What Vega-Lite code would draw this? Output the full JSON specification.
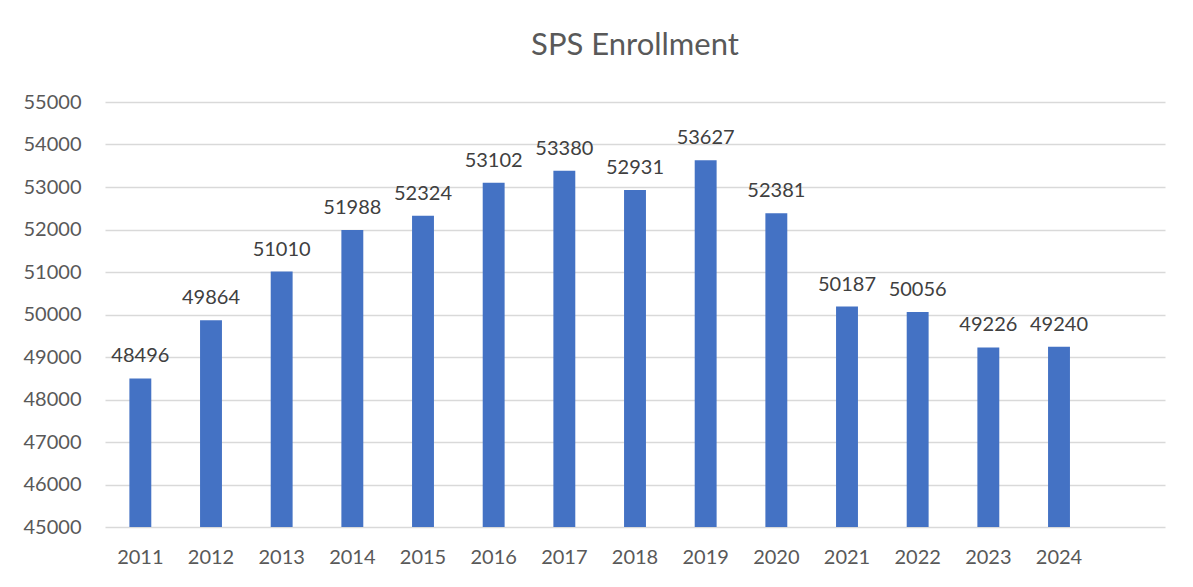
{
  "$schema": "https://vega.github.io/schema/vega-lite/v6.json",
  "autosize": {"type": "none"},
  "width": 1060,
  "height": 425,
  "padding": {"left": 105, "top": 102, "right": 28, "bottom": 60},
  "background": "white",
  "title": {"text": "SPS Enrollment", "font": "Lato", "fontSize": 31, "fontWeight": "normal", "color": "#595959", "anchor": "middle", "offset": 30},
  "data": {"values": [
    {"year": "2011", "enrollment": 48496},
    {"year": "2012", "enrollment": 49864},
    {"year": "2013", "enrollment": 51010},
    {"year": "2014", "enrollment": 51988},
    {"year": "2015", "enrollment": 52324},
    {"year": "2016", "enrollment": 53102},
    {"year": "2017", "enrollment": 53380},
    {"year": "2018", "enrollment": 52931},
    {"year": "2019", "enrollment": 53627},
    {"year": "2020", "enrollment": 52381},
    {"year": "2021", "enrollment": 50187},
    {"year": "2022", "enrollment": 50056},
    {"year": "2023", "enrollment": 49226},
    {"year": "2024", "enrollment": 49240}
  ]},
  "encoding": {
    "x": {
      "field": "year", "type": "nominal",
      "scale": {"domain": ["2011","2012","2013","2014","2015","2016","2017","2018","2019","2020","2021","2022","2023","2024","2025"], "paddingInner": 0.69, "paddingOuter": 0.345},
      "axis": {"title": null, "labelAngle": 0, "ticks": false, "domain": false, "labelPadding": 20, "labelFont": "Lato", "labelFontSize": 20, "labelColor": "#595959", "labelExpr": "datum.value == '2025' ? '' : datum.label"}
    },
    "y": {
      "field": "enrollment", "type": "quantitative",
      "scale": {"domain": [45000, 55000], "zero": false, "nice": false},
      "axis": {"title": null, "values": [45000,46000,47000,48000,49000,50000,51000,52000,53000,54000,55000], "format": "d", "ticks": false, "domain": false, "labelPadding": 24, "labelFont": "Lato", "labelFontSize": 20, "labelColor": "#595959", "gridColor": "#d9d9d9", "gridWidth": 1.5}
    }
  },
  "layer": [
    {"mark": {"type": "bar", "color": "#4472C4"}, "encoding": {"y2": {"datum": 45000}}},
    {"mark": {"type": "text", "font": "Lato", "fontSize": 20, "color": "#404040", "baseline": "bottom", "dy": -12}, "encoding": {"text": {"field": "enrollment", "type": "quantitative", "format": "d"}}}
  ],
  "config": {"view": {"stroke": null}}
}
